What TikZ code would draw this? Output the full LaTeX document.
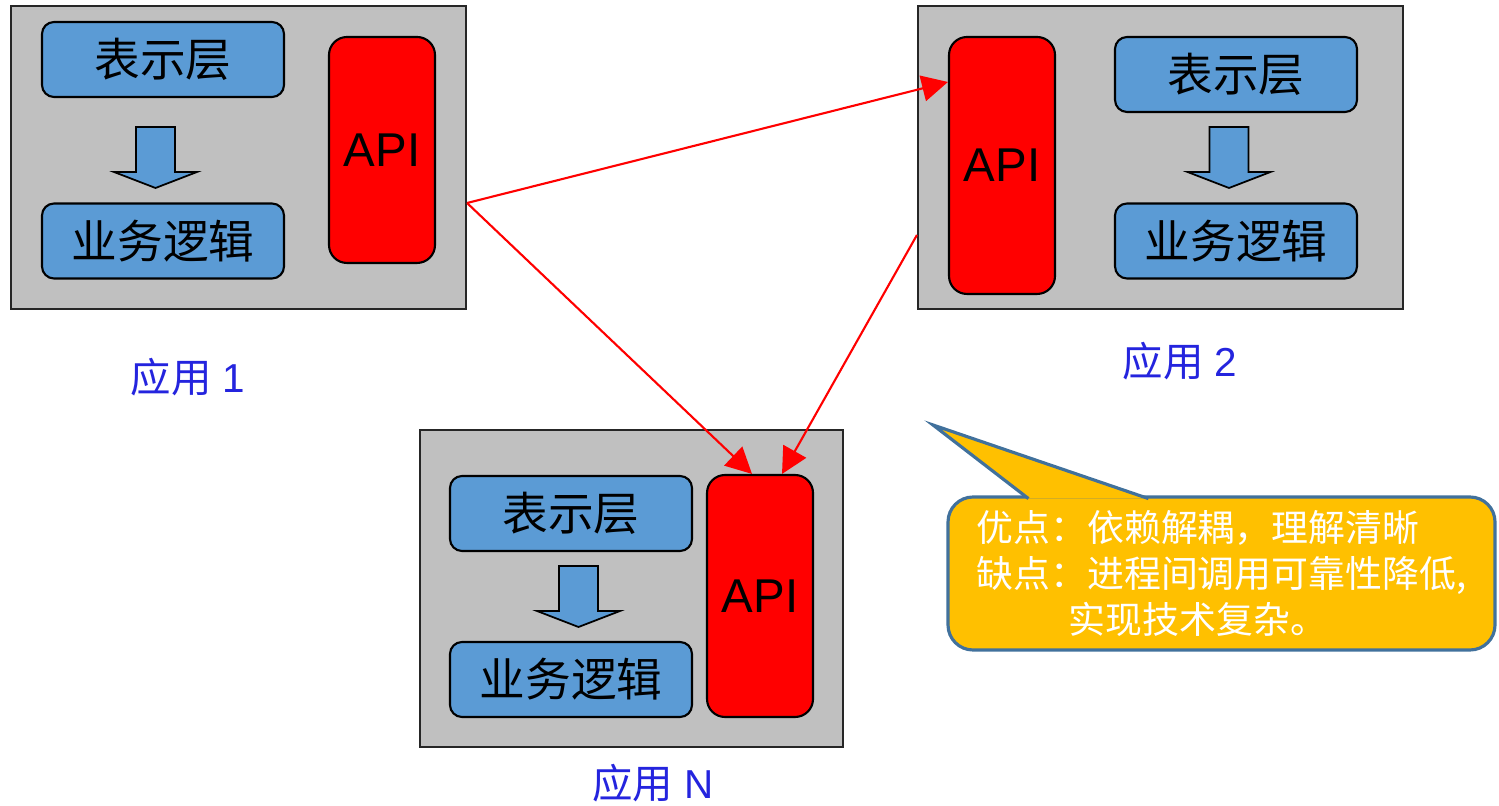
\documentclass[tikz,border=0pt]{standalone}
\usepackage{fontspec}
\setmainfont{Liberation Sans}
\newfontfamily\cjk{Noto Sans CJK SC}
\usepackage{tikz}
\usetikzlibrary{arrows.meta,positioning}
\definecolor{boxgray}{RGB}{192,192,192}
\definecolor{layerblue}{RGB}{91,155,213}
\definecolor{notegold}{RGB}{255,192,0}
\definecolor{noteedge}{RGB}{65,113,156}
\definecolor{labelblue}{RGB}{36,36,222}

\begin{document}
\begin{tikzpicture}[appbox/.style={draw=black!85, fill=boxgray, line width=0.6pt},
                   layer/.style={draw=black, fill=layerblue, rounded corners=0.12cm,
                     minimum width=2.42cm, minimum height=0.75cm, line width=0.6pt,
                     font=\cjk\fontsize{13}{15}\selectfont},
                   api/.style={draw=black, fill=red, rounded corners=0.18cm,
                     minimum width=1.06cm, line width=0.6pt, font=\fontsize{13.5}{15}\selectfont},
                   applabel/.style={text=labelblue, font=\fontsize{11.5}{13}\selectfont},
                   link/.style={red, line width=0.6pt, -{Triangle[length=0.26cm,width=0.26cm]}},
                   downarrow/.pic={\draw[fill=layerblue, line width=0.5pt]
                     (-0.195,0.305) -- (0.195,0.305) -- (0.195,-0.145) -- (0.415,-0.145)
                     -- (0,-0.305) -- (-0.415,-0.145) -- (-0.195,-0.145) -- cycle;}]
          \useasboundingbox (0,0) rectangle (14.99,8.06);
          % application 1
          \node[appbox, minimum width=4.55cm, minimum height=3.03cm] (app1) at (2.385,6.485) {};
          \node[layer] (ui1) at (1.63,7.465) {表示层};
          \pic at (1.555,6.485) {downarrow};
          \node[layer] (biz1) at (1.63,5.65) {业务逻辑};
          \node[api, minimum height=2.26cm] (api1) at (3.82,6.56) {API};
          \node[applabel] (lab1) at (1.88,4.29) {{\cjk 应用} 1};
          % application 2
          \node[appbox, minimum width=4.85cm, minimum height=3.03cm] (app2) at (11.605,6.485) {};
          \node[api, minimum height=2.57cm] (api2) at (10.02,6.405) {API};
          \node[layer] (ui2) at (12.36,7.315) {表示层};
          \pic at (12.29,6.485) {downarrow};
          \node[layer] (biz2) at (12.36,5.65) {业务逻辑};
          \node[applabel] (lab2) at (11.80,4.45) {{\cjk 应用} 2};
          % application N
          \node[appbox, minimum width=4.23cm, minimum height=3.17cm] (appN) at (6.315,2.175) {};
          \node[layer] (uiN) at (5.71,2.925) {表示层};
          \pic at (5.785,2.095) {downarrow};
          \node[layer] (bizN) at (5.71,1.265) {业务逻辑};
          \node[api, minimum height=2.42cm] (apiN) at (7.60,2.10) {API};
          \node[applabel] (labN) at (6.53,0.23) {{\cjk 应用} N};
          % calls between the applications
          \coordinate (out1) at ([yshift=-4.55mm]app1.east);
          \coordinate (out2) at ([yshift=-7.75mm]app2.west);
          \draw[link] (out1) -- ([yshift=8.35mm]api2.west);
          \draw[link] (out1) -- ([xshift=-0.8mm]apiN.north);
          \draw[link] (out2) -- ([xshift=2.2mm]apiN.north);
          % note
          \node[draw=noteedge, fill=notegold, line width=0.9pt, rounded corners=0.25cm,
                minimum width=5.47cm, minimum height=1.53cm, text=white, align=left,
                font=\cjk\fontsize{10.5}{13}\selectfont] (note) at (12.215,2.325)
                {优点：依赖解耦，理解清晰\\缺点：进程间调用可靠性降低,\\\hspace*{2.5em}实现技术复杂。};
          \coordinate (tip) at (9.33,3.81);
          \coordinate (base1) at ([xshift=8.2mm,yshift=-0.9pt]note.north west);
          \coordinate (base2) at ([xshift=20.2mm,yshift=-0.9pt]note.north west);
          \fill[notegold] (base1) -- (tip) -- (base2) -- cycle;
          \draw[noteedge, line width=0.9pt] (base1) -- (tip) -- (base2);
        \end{tikzpicture}
\end{document}
